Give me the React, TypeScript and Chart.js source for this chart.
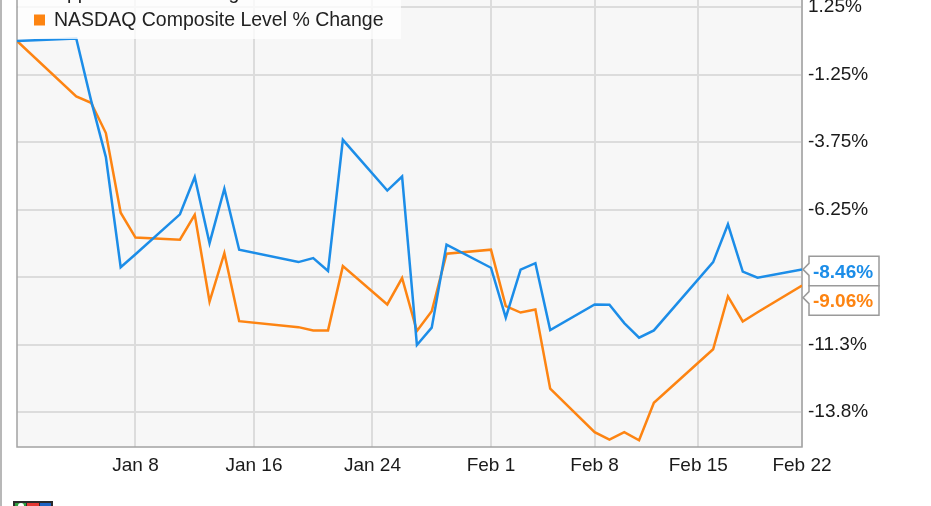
import React, { useEffect, useRef } from 'react';
import { Chart, registerables } from 'chart.js';

Chart.register(...registerables);

// ---------------- data ----------------
const dates = [
  '2015-12-31', '2016-01-04', '2016-01-05', '2016-01-06', '2016-01-07', '2016-01-08',
  '2016-01-11', '2016-01-12', '2016-01-13', '2016-01-14', '2016-01-15',
  '2016-01-19', '2016-01-20', '2016-01-21', '2016-01-22',
  '2016-01-25', '2016-01-26', '2016-01-27', '2016-01-28', '2016-01-29',
  '2016-02-01', '2016-02-02', '2016-02-03', '2016-02-04', '2016-02-05',
  '2016-02-08', '2016-02-09', '2016-02-10', '2016-02-11', '2016-02-12',
  '2016-02-16', '2016-02-17', '2016-02-18', '2016-02-19', '2016-02-22',
];

const appleChange = [
  0, 0.09, -2.2, -4.3, -8.38, -7.9,
  -6.42, -5.04, -7.49, -5.47, -7.73,
  -8.19, -8.04, -8.52, -3.66,
  -5.54, -5.02, -11.26, -10.62, -7.54,
  -8.4, -10.25, -8.47, -8.23, -10.71,
  -9.76, -9.77, -10.45, -10.99, -10.72,
  -8.19, -6.79, -8.54, -8.77, -8.46,
];

const nasdaqChange = [
  0, -2.05, -2.29, -3.41, -6.36, -7.28,
  -7.36, -6.44, -9.65, -7.86, -10.38,
  -10.6, -10.72, -10.72, -8.34,
  -9.76, -8.78, -10.74, -10.01, -7.88,
  -7.73, -9.82, -10.06, -9.95, -12.88,
  -14.49, -14.77, -14.49, -14.79, -13.4,
  -11.42, -9.46, -10.39, -10.05, -9.06,
];

const seriesNames = ['Apple Price % Change', 'NASDAQ Composite Level % Change'];
const seriesColors = ['#1c8de8', '#fd8412'];

const yTicks = [1.25, -1.25, -3.75, -6.25, -8.75, -11.25, -13.75];
const xTickDates = ['2016-01-08', '2016-01-16', '2016-01-24', '2016-02-01', '2016-02-08', '2016-02-15', '2016-02-22'];
const yMin = -15.04;
const yMax = 2.26;

// ---------------- helpers ----------------
const MONTHS = ['Jan', 'Feb', 'Mar', 'Apr', 'May', 'Jun', 'Jul', 'Aug', 'Sep', 'Oct', 'Nov', 'Dec'];
const DAY_MS = 86400000;
const originMs = Date.parse(dates[0]);
const toDay = (iso: string) => Math.round((Date.parse(iso) - originMs) / DAY_MS);
const dayToLabel = (day: number) => {
  const d = new Date(originMs + day * DAY_MS);
  return MONTHS[d.getUTCMonth()] + ' ' + d.getUTCDate();
};
const fmtPct = (v: number) => (Math.abs(v) >= 10 ? v.toFixed(1) : v.toFixed(2)) + '%';

const FONT = "'Liberation Sans', Arial, Helvetica, sans-serif";
const CANVAS_W = 931;
const CANVAS_H = 546;
const SHIFT = 40; // canvas is shifted up by this many pixels (top of chart cropped)

const decor = {
  id: 'decor',
  beforeDraw(chart: any) {
    const { ctx, chartArea: a, width, height } = chart;
    ctx.save();
    ctx.fillStyle = '#ffffff';
    ctx.fillRect(0, 0, width, height);
    ctx.fillStyle = '#f7f7f7';
    ctx.fillRect(a.left, a.top, a.right - a.left, a.bottom - a.top);
    ctx.restore();
  },
  beforeDatasetsDraw(chart: any) {
    const { ctx, chartArea: a } = chart;
    ctx.save();
    ctx.strokeStyle = '#a3a3a3';
    ctx.lineWidth = 1.5;
    ctx.strokeRect(a.left, a.top, a.right - a.left, a.bottom - a.top);
    ctx.restore();
  },
  afterDatasetsDraw(chart: any) {
    const { ctx, chartArea: a } = chart;
    ctx.save();
    // legend panel (semi transparent)
    const legBottom = 39 + SHIFT;
    ctx.fillStyle = 'rgba(255,255,255,0.78)';
    ctx.fillRect(a.left + 1, 0, 383, legBottom);
    ctx.font = `19.5px ${FONT}`;
    ctx.textBaseline = 'middle';
    ctx.textAlign = 'left';
    const rowCenters = [-6.5 + SHIFT, 20.5 + SHIFT];
    chart.data.datasets.forEach((ds: any, i: number) => {
      const cy = rowCenters[i];
      ctx.fillStyle = ds.borderColor;
      ctx.fillRect(34, cy - 6, 11, 11);
      ctx.fillStyle = '#222';
      ctx.fillText(ds.label, 54, cy);
    });
    ctx.restore();
  },
  afterDraw(chart: any) {
    const { ctx, chartArea: a } = chart;
    const yScale = chart.scales.y;
    ctx.save();
    // end value labels
    const boxH = 29.5;
    const boxW = 70;
    const boxL = a.right + 7;
    const items = chart.data.datasets
      .map((ds: any) => {
        const last = ds.data[ds.data.length - 1];
        return { v: last.y, py: yScale.getPixelForValue(last.y), color: ds.borderColor };
      })
      .sort((p: any, q: any) => p.py - q.py);
    let prevBottom = -Infinity;
    items.forEach((it: any) => {
      let top = it.py - boxH / 2 + 1.5;
      if (top < prevBottom) top = prevBottom;
      const bottom = top + boxH;
      prevBottom = bottom;
      const tipY = Math.min(Math.max(it.py, top + 12), bottom - 12);
      ctx.beginPath();
      ctx.moveTo(boxL, top);
      ctx.lineTo(boxL + boxW, top);
      ctx.lineTo(boxL + boxW, bottom);
      ctx.lineTo(boxL, bottom);
      ctx.lineTo(boxL, tipY + 6);
      ctx.lineTo(boxL - 6, tipY);
      ctx.lineTo(boxL, tipY - 6);
      ctx.closePath();
      ctx.fillStyle = '#ffffff';
      ctx.fill();
      ctx.strokeStyle = '#9a9a9a';
      ctx.lineWidth = 1.5;
      ctx.stroke();
      ctx.fillStyle = it.color;
      ctx.font = `bold 19px ${FONT}`;
      ctx.textAlign = 'center';
      ctx.textBaseline = 'middle';
      ctx.fillText(fmtPct(it.v), boxL + boxW / 2 - 1, top + boxH / 2 + 1.5);
    });
    // outer frame line on the left
    ctx.strokeStyle = '#a0a0a0';
    ctx.lineWidth = 1.5;
    ctx.beginPath();
    ctx.moveTo(1, 0);
    ctx.lineTo(1, CANVAS_H);
    ctx.stroke();
    // small logo at the bottom-left (cropped)
    const ly = 501 + SHIFT;
    ctx.fillStyle = '#2b2b2b';
    ctx.fillRect(13, ly, 40, 8);
    ctx.fillStyle = '#2e9e3e';
    ctx.fillRect(15, ly + 2, 11, 6);
    ctx.fillStyle = '#e53935';
    ctx.fillRect(27, ly + 2, 12, 6);
    ctx.fillStyle = '#1e63c4';
    ctx.fillRect(40, ly + 2, 11, 6);
    ctx.fillStyle = '#ffffff';
    ctx.beginPath();
    ctx.arc(21, ly + 5, 3, 0, Math.PI * 2);
    ctx.fill();
    ctx.restore();
  },
};

export default function App() {
  const ref = useRef<HTMLCanvasElement>(null);

  useEffect(() => {
    document.body.style.margin = '0';
    const canvas = ref.current;
    if (!canvas) return;
    const xs = dates.map(toDay);
    const chart = new Chart(canvas, {
      type: 'line',
      data: {
        datasets: [
          {
            label: seriesNames[0],
            data: xs.map((x, i) => ({ x, y: appleChange[i] })),
            borderColor: seriesColors[0],
            backgroundColor: seriesColors[0],
            borderWidth: 2.5,
            pointRadius: 0,
            tension: 0,
            fill: false,
          },
          {
            label: seriesNames[1],
            data: xs.map((x, i) => ({ x, y: nasdaqChange[i] })),
            borderColor: seriesColors[1],
            backgroundColor: seriesColors[1],
            borderWidth: 2.5,
            pointRadius: 0,
            tension: 0,
            fill: false,
          },
        ],
      },
      options: {
        animation: false,
        responsive: false,
        devicePixelRatio: 1,
        layout: { padding: { left: 17, top: 20, right: 0, bottom: 0 } },
        plugins: {
          legend: { display: false },
          tooltip: { enabled: false },
        },
        scales: {
          x: {
            type: 'linear',
            min: xs[0],
            max: xs[xs.length - 1],
            afterBuildTicks: (scale: any) => {
              scale.ticks = xTickDates.map((d) => ({ value: toDay(d) }));
            },
            afterFit: (scale: any) => {
              scale.height = 59;
            },
            grid: { color: '#dcdcdc', lineWidth: 2, drawTicks: false },
            border: { display: false },
            ticks: {
              autoSkip: false,
              maxRotation: 0,
              padding: 7,
              color: '#1a1a1a',
              font: { family: FONT, size: 19 },
              callback: (v: any) => dayToLabel(Number(v)),
            },
          },
          y: {
            type: 'linear',
            position: 'right',
            min: yMin,
            max: yMax,
            afterBuildTicks: (scale: any) => {
              scale.ticks = yTicks.map((v) => ({ value: v }));
            },
            afterFit: (scale: any) => {
              scale.width = 129;
            },
            grid: { color: '#dcdcdc', lineWidth: 2, drawTicks: false },
            border: { display: false },
            ticks: {
              padding: 6,
              color: '#1a1a1a',
              font: { family: FONT, size: 19 },
              callback: (v: any) => fmtPct(Number(v)),
            },
          },
        },
      },
      plugins: [decor],
    } as any);
    return () => chart.destroy();
  }, []);

  return (
    <div
      style={{
        position: 'fixed',
        left: 0,
        top: 0,
        width: CANVAS_W,
        height: 506,
        overflow: 'hidden',
        background: '#fff',
      }}
    >
      <canvas
        ref={ref}
        width={CANVAS_W}
        height={CANVAS_H}
        style={{ position: 'absolute', left: 0, top: -SHIFT, width: CANVAS_W, height: CANVAS_H }}
      />
    </div>
  );
}
